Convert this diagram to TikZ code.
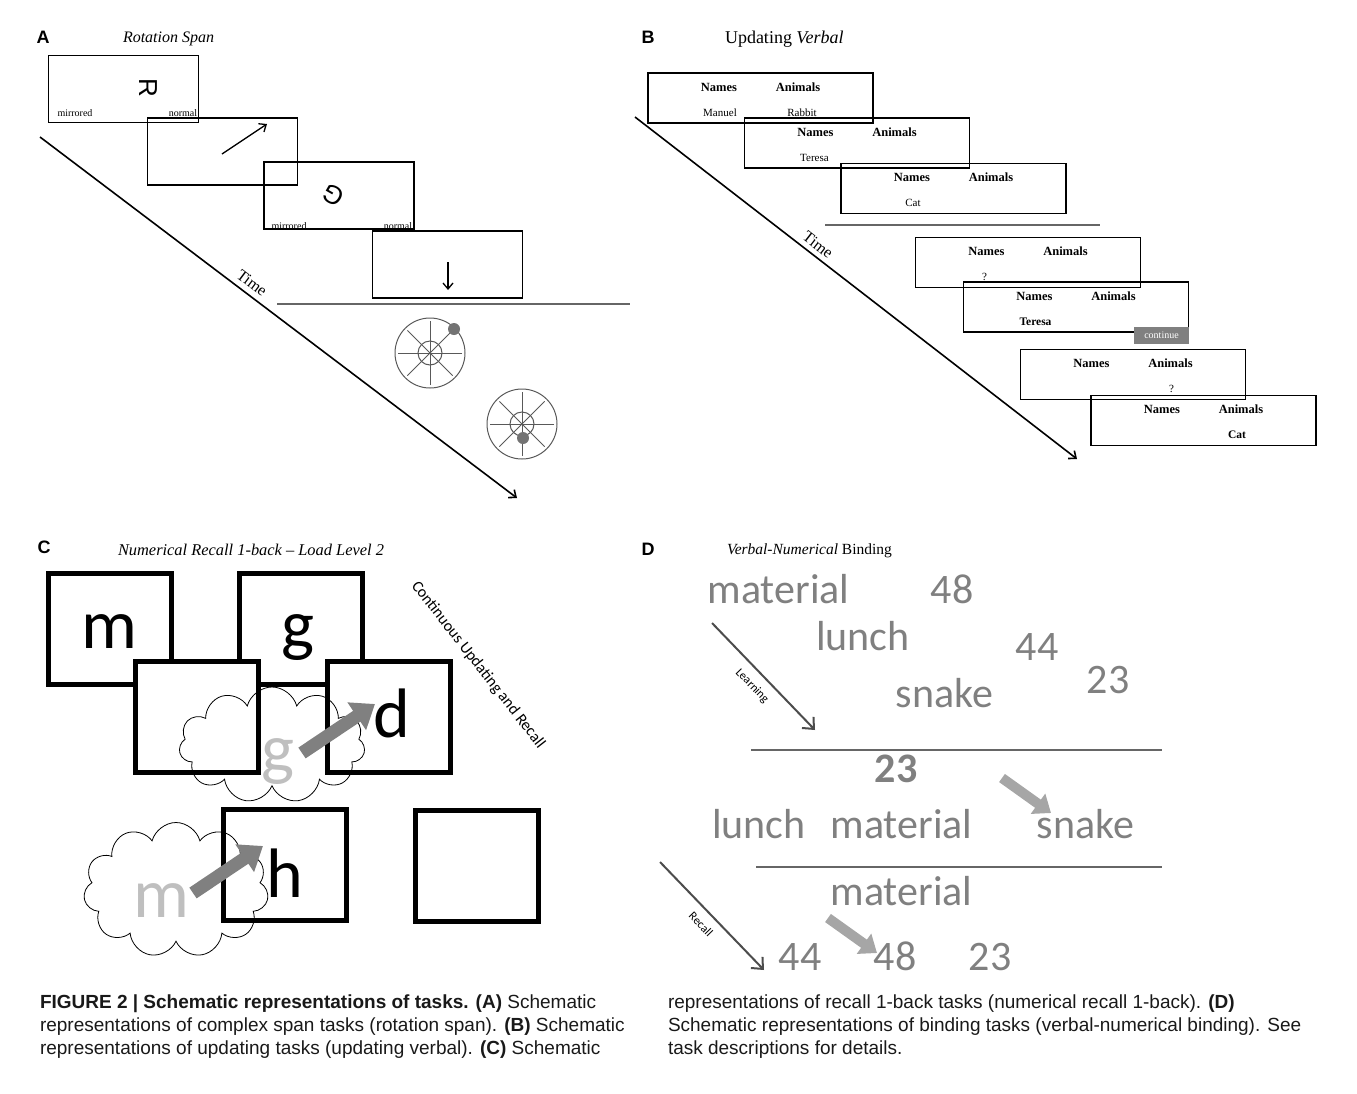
\documentclass[tikz,border=0pt]{standalone}
\usepackage{fontspec}
\setmainfont{Liberation Serif}
\newfontfamily\carlito{Carlito}
\newfontfamily\helv{Liberation Sans}
\usetikzlibrary{arrows.meta,positioning,calc,shapes.symbols}

\begin{document}
\begin{tikzpicture}[x=1pt,y=-1pt,>={Straight Barb[length=6pt,width=10pt]},
    every node/.style={inner sep=0pt,outer sep=0pt},
    lbl/.style={font=\helv\bfseries\fontsize{18}{20}\selectfont,anchor=base},
    ttl/.style={font=\fontsize{16}{18}\selectfont,anchor=base west},
    scrA/.style={draw,line width=1.8pt,minimum width=150pt,minimum height=67pt},
    scrB/.style={draw,line width=1.5pt,minimum width=225pt,minimum height=50pt},
    tinytxt/.style={font=\fontsize{10}{12}\selectfont,anchor=base},
    hd/.style={font=\bfseries\fontsize{12.5}{14}\selectfont,anchor=base},
    wd/.style={font=\fontsize{11}{13}\selectfont,anchor=base},
    timeline/.style={->,line width=1.6pt},
    sepline/.style={line width=1.2pt,black!60},
    wheel/.style={circle,draw=black!65,line width=1pt,minimum size=70pt},
    hub/.style={circle,draw=black!65,line width=1pt,minimum size=24pt},
    spoke/.style={black!65,line width=1pt},
    knob/.style={circle,fill=black!55,minimum size=12pt},
    sq/.style={draw,line width=5pt,fill=white,minimum width=123pt,minimum height=111pt},
    big/.style={font=\carlito\fontsize{70}{80}\selectfont,anchor=base},
    puff/.style={cloud,cloud puffs=11,draw,line width=0.8pt},
    fat/.style={-{Triangle[length=22pt,width=32pt]},line width=13pt,black!50},
    word/.style={font=\carlito\fontsize{42}{50}\selectfont,text=black!50,anchor=base},
    grayarrow/.style={-{Triangle[length=16pt,width=24pt]},line width=10pt,black!35},
    thinarrow/.style={-{Straight Barb[length=9pt,width=16pt]},line width=2pt,black!70},
    smalltxt/.style={font=\carlito\fontsize{12}{14}\selectfont},
    captxt/.style={font=\helv\fontsize{19}{22}\selectfont,anchor=base west,text=black!90}]
  \useasboundingbox (0,0) rectangle (1357,1093);

  % ---------- A: rotation span ----------
  \node[lbl] (labA) at (43,43) {A};
  \node[ttl] (titA) at (123,42) {\itshape Rotation Span};
  \node[scrA] (a1) at (123.5,89) {};
  \node[scrA] (a2) at (222.5,151.5) {};
  \node[scrA] (a3) at (339,195.5) {};
  \node[scrA] (a4) at (447.5,264.5) {};
  \node[font=\helv\fontsize{26}{28}\selectfont,rotate=-90] (glyR) at (148,88) {R};
  \node[font=\helv\fontsize{26}{28}\selectfont,rotate=150] (glyG) at (333,195) {G};
  \node[tinytxt] (a1m) at (75,116) {mirrored};
  \node[tinytxt] (a1n) at (183,116) {normal};
  \node[tinytxt] (a3m) at (289,229) {mirrored};
  \node[tinytxt] (a3n) at (398,229) {normal};
  \coordinate (ar0) at (222,154);
  \coordinate (ar1) at (267,124);
  \draw[->,line width=1.3pt] (ar0) -- (ar1);
  \coordinate (dn0) at (448,262);
  \coordinate (dn1) at (448,290);
  \draw[->,line width=1.3pt] (dn0) -- (dn1);
  \coordinate (sepA0) at (277,304);
  \coordinate (sepA1) at (630,304);
  \draw[sepline] (sepA0) -- (sepA1);
  \foreach \w/\cx/\cy in {w1/430/353,w2/522/424}{
    \node[wheel] (\w) at (\cx,\cy) {};
    \node[hub] (\w-hub) at (\w) {};
    \foreach \a in {0,45,90,135}
      \draw[spoke] ($(\w)+(\a:32)$) -- ($(\w)+(\a+180:32)$);
  }
  \node[knob] (k1) at (454,329) {};
  \node[knob] (k2) at (523,438) {};
  \coordinate (tA0) at (40,137);
  \coordinate (tA1) at (517,498);
  \draw[timeline] (tA0) -- (tA1);
  \node[font=\fontsize{16}{18}\selectfont,rotate=-37] (timeA) at (252,283) {Time};

  % ---------- B: updating verbal ----------
  \node[lbl] (labB) at (648,43) {B};
  \node[ttl,font=\fontsize{18}{20}\selectfont] (titB) at (725,43) {Updating \textit{Verbal}};
  \foreach \n/\cx/\cy in {b1/760.5/98,b2/857/143,b3/953.5/188.5,b4/1028/262.5,b5/1076/307,b6/1133/374.5,b7/1203.5/420.5}{
    \node[scrB] (\n) at (\cx,\cy) {};
    \node[hd] (\n-nm) at ($(\n.north west)+(71,18)$) {Names};
    \node[hd] (\n-an) at ($(\n.north west)+(150,18)$) {Animals};
  }
  \node[wd] (b1-x) at ($(b1.north west)+(72,43)$) {Manuel};
  \node[wd] (b1-y) at ($(b1.north west)+(154,43)$) {Rabbit};
  \node[wd] (b2-x) at ($(b2.north west)+(70,43)$) {Teresa};
  \node[wd] (b3-x) at ($(b3.north west)+(72,43)$) {Cat};
  \node[wd] (b4-x) at ($(b4.north west)+(69,43)$) {?};
  \node[hd,font=\bfseries\fontsize{11.5}{13}\selectfont] (b5-x) at ($(b5.north west)+(72,43)$) {Teresa};
  \node[fill=black!50,text=white,font=\fontsize{10}{12}\selectfont,minimum width=55pt,minimum height=17pt] (cont) at (1161.5,335.5) {continue};
  \node[wd] (b6-y) at ($(b6.north west)+(151,43)$) {?};
  \node[hd,font=\bfseries\fontsize{11.5}{13}\selectfont] (b7-y) at ($(b7.north west)+(146,43)$) {Cat};
  \coordinate (sepB0) at (825,225);
  \coordinate (sepB1) at (1100,225);
  \draw[sepline] (sepB0) -- (sepB1);
  \coordinate (tB0) at (635,117);
  \coordinate (tB1) at (1077,459);
  \draw[timeline] (tB0) -- (tB1);
  \node[font=\fontsize{16}{18}\selectfont,rotate=-38] (timeB) at (818,245) {Time};

  % ---------- C: numerical recall 1-back ----------
  \node[lbl] (labC) at (44,553) {C};
  \node[ttl,font=\fontsize{16.4}{18}\selectfont] (titC) at (118,555) {\itshape Numerical Recall 1-back -- Load Level 2};
  \node[sq] (s1) at (110,629) {};
  \node[sq] (s2) at (301,629) {};
  \node[sq] (s3) at (197,716.5) {};
  \node[sq] (s4) at (389,717) {};
  \node[sq] (s5) at (285,865) {};
  \node[sq] (s6) at (476.5,866) {};
  \node[big] (lm) at (109,648) {m};
  \node[big] (lg) at (298,648) {g};
  \node[big] (ld) at (392,737) {d};
  \node[big] (lh) at (285,897) {h};
  \node[puff,aspect=1.6,minimum width=186pt,minimum height=116pt] (cl1) at (272,745) {};
  \node[puff,aspect=1.4,minimum width=185pt,minimum height=135pt] (cl2) at (176,890) {};
  \node[big,text=black!25] (gg) at (278,772) {g};
  \node[big,text=black!25] (gm) at (161,917) {m};
  \coordinate (fa0) at (302,753);
  \coordinate (fa1) at (375,704);
  \draw[fat] (fa0) -- (fa1);
  \coordinate (fb0) at (193,893);
  \coordinate (fb1) at (263,846);
  \draw[fat] (fb0) -- (fb1);
  \node[font=\carlito\fontsize{16}{18}\selectfont,rotate=-52] (cur) at (478,665) {Continuous Updating and Recall};

  % ---------- D: verbal-numerical binding ----------
  \node[lbl] (labD) at (648,555) {D};
  \node[ttl,font=\fontsize{15.5}{17}\selectfont] (titD) at (727,554) {\textit{Verbal-Numerical} Binding};
  \node[word] (m1) at (778.5,603) {material};
  \node[word] (n48a) at (952,603) {48};
  \node[word] (l1) at (863,650) {lunch};
  \node[word] (n44a) at (1037,660) {44};
  \node[word] (s1w) at (944.5,707) {snake};
  \node[word] (n23a) at (1108,693) {23};
  \node[word,font=\carlito\bfseries\fontsize{42}{50}\selectfont] (n23b) at (896,782) {23};
  \node[word] (l2) at (759,838) {lunch};
  \node[word] (m2) at (901.5,838) {material};
  \node[word] (s2w) at (1085.5,838) {snake};
  \node[word] (m3) at (901.5,905) {material};
  \node[word] (n44b) at (800,970) {44};
  \node[word] (n48b) at (895,970) {48};
  \node[word] (n23c) at (990,970) {23};
  \coordinate (sepD0) at (751,750);
  \coordinate (sepD1) at (1162,750);
  \draw[sepline] (sepD0) -- (sepD1);
  \coordinate (sepD2) at (756,867);
  \coordinate (sepD3) at (1162,867);
  \draw[sepline] (sepD2) -- (sepD3);
  \coordinate (lrn0) at (712,623);
  \coordinate (lrn1) at (815,730);
  \draw[thinarrow] (lrn0) -- (lrn1);
  \node[smalltxt,rotate=-46] (lrn) at (752,686) {Learning};
  \coordinate (rec0) at (660,862);
  \coordinate (rec1) at (764,970);
  \draw[thinarrow] (rec0) -- (rec1);
  \node[smalltxt,rotate=-46] (rec) at (701,924) {Recall};
  \coordinate (ga0) at (1002,778);
  \coordinate (ga1) at (1051,813);
  \draw[grayarrow] (ga0) -- (ga1);
  \coordinate (gb0) at (828,918);
  \coordinate (gb1) at (877,953);
  \draw[grayarrow] (gb0) -- (gb1);

  % ---------- caption ----------
  \node[captxt] (cp1) at (40,1008) {\bfseries FIGURE 2 | Schematic representations of tasks. (A)\mdseries{} Schematic};
  \node[captxt] (cp2) at (40,1031) {representations of complex span tasks (rotation span). \textbf{(B)} Schematic};
  \node[captxt] (cp3) at (40,1054) {representations of updating tasks (updating verbal). \textbf{(C)} Schematic};
  \node[captxt] (cp4) at (668,1008) {representations of recall 1-back tasks (numerical recall 1-back). \textbf{(D)}};
  \node[captxt] (cp5) at (668,1031) {Schematic representations of binding tasks (verbal-numerical binding). See};
  \node[captxt] (cp6) at (668,1054) {task descriptions for details.};
\end{tikzpicture}
\end{document}
